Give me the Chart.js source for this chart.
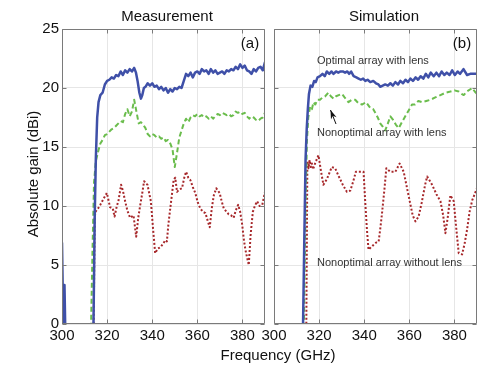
<!DOCTYPE html>
<html><head><meta charset="utf-8">
<script src="https://cdn.jsdelivr.net/npm/chart.js@4"></script>
<style>
html,body{margin:0;padding:0;background:#fff;}
#wrap{position:relative;width:500px;height:378px;overflow:hidden;}
canvas{position:absolute;left:0;top:0;}
</style></head><body>
<div id="wrap">
<canvas id="c1" width="500" height="378"></canvas>
<canvas id="c2" width="500" height="378"></canvas>
</div>
<script>
// ---------- tick labels ----------
const ticksX = [300, 320, 340, 360, 380];
const ticksY = [0, 5, 10, 15, 20, 25];

// ---------- Measurement: optimal array with lens ----------
const measOptFreq = [300,300.6,301.1,301.5,313.9,314.5,315,315.6,316.2,317,318,319,320,321,322,323,324,325,326,327,328,329,330,331,332,332.8,333.5,334.3,335,335.6,336.3,337,338,339,340,341,342,343,344,345,346,347,348,349,350,351,352,353,354,355,356,357,358,359,360,361,362,363,364,365,366,367,368,369,370,371,372,373,374,375,376,377,378,379,380,381,382,383,384,385,386,387,388,389,390];
const measOpt = [6.9,-0.5,3.3,-1,-1,9,14,17.5,18.8,19.4,19.6,20.3,20.6,20.7,20.9,20.8,21.1,21.0,21.4,21.1,21.5,21.3,21.6,21.4,21.7,21.3,20.6,19.6,19.1,19.4,20.0,20.1,20.4,20.2,20.4,20.1,20.2,19.9,20.1,19.8,20.0,19.6,19.9,19.7,20.0,19.9,20.1,20.0,20.6,21.2,21.0,21.3,20.9,21.3,21.4,21.2,21.6,21.4,21.5,21.2,21.6,21.3,21.5,21.2,21.3,21.4,21.2,21.5,21.4,21.6,21.5,21.8,21.6,22.0,21.7,21.9,21.5,21.4,21.2,21.6,21.4,21.7,21.8,21.5,22.2];

// ---------- Measurement: nonoptimal array with lens ----------
const measNoLensOptFreq = [312.8,313.5,314.2,315,316,317,318,319,320,321,322,323,324,325,326,327,328,329,330,331,332,333,334,335,336,337,338,339,340,341,342,343,344,345,346,347,348,349,350,351,352,353,354,355,356,357,358,359,360,361,362,363,364,365,366,367,368,369,370,371,372,373,374,375,376,377,378,379,380,381,382,383,384,385,386,387,388,389,390];
const measNonoptLens = [-1,6,12,13.8,14.6,15.3,15.6,16.0,16.1,16.3,16.5,16.6,16.8,17.0,17.2,17.1,17.8,18.2,17.6,18.0,19.0,18.0,17.0,17.1,16.9,16.6,16.1,15.9,16.1,16.0,15.8,15.9,15.7,15.8,15.5,15.6,15.3,14.8,13.3,14.5,15.8,16.4,17.0,17.4,17.1,17.5,17.7,17.6,17.8,17.6,17.7,17.5,17.6,17.4,17.6,17.4,17.6,17.8,17.7,17.9,17.8,17.7,17.8,17.6,17.7,18.0,17.9,18.0,17.8,17.9,17.6,17.4,17.6,17.5,17.3,17.2,17.4,17.5,17.9];

// ---------- Measurement: nonoptimal array without lens ----------
const measNoLensFreq = [314,314.5,314.8,316,317,318.4,319.9,321.3,322.5,323.3,324.3,325,326.2,327,328,329,330.2,331.7,332.5,332.9,333.8,334.7,335.5,336.4,337.2,337.9,339.4,340.4,341.3,342.5,343.6,344.8,345.8,346.5,347.2,348,349.5,350.2,351,352,353.2,354.2,355,356,356.9,358,359.1,360.2,361.3,362.5,363.6,364.5,365.5,366.4,367.3,368.4,369.9,370.8,371.7,373,373.9,375,376.1,377,378.1,379,379.9,380.6,381.3,382.1,382.8,383.6,384.6,385.5,386.5,387.6,388.8,390];
const measNonoptNoLens = [-1,9.0,9.5,9.8,10.1,10.6,11.1,9.9,9.8,9.1,10.0,10.4,11.8,11.3,10.4,9.6,9.0,9.2,8.0,7.4,9.0,10.1,11.0,12.1,11.9,11.8,10.4,8.0,6.0,6.4,6.5,6.8,7.1,7.0,8.5,9.8,12.2,12.4,11.2,11.4,11.5,12.4,12.9,12.4,12.2,11.6,11.1,10.3,9.8,9.5,9.4,8.8,8.2,9.8,10.9,11.5,11.1,10.4,9.8,9.5,9.3,9.2,9.0,9.6,10.1,9.5,8.4,7.2,6.3,5.6,5.0,7.5,9.5,10.0,10.4,10.0,10.1,11.2];

// ---------- Simulation: optimal array with lens ----------
const simOptFreq = [312.8,313.5,314,314.5,315,315.5,316.2,317,317.8,318.5,319.3,320.4,321.5,322.5,323.4,324.5,325.5,326.4,327.5,328.5,329.5,330.5,331.5,332.5,333.3,334.2,335.3,336.5,337.5,338.5,339.5,340.5,341.5,342.7,344,345.2,346.3,347.1,348.2,349.3,350.5,351.6,352.7,353.8,355,356,357.2,358.3,359.4,360.5,361.6,362.8,363.9,365,366.2,367.3,368.4,369.5,370.8,372,373.2,374.3,375.5,376.6,377.8,379,380.2,381.4,382.5,384,385.6,387,388.5,390];
const simOpt = [-1,8,14,16.5,18.2,19.5,20.2,20.1,20.6,20.5,20.9,21.0,21.2,21.0,21.4,21.2,21.4,21.2,21.4,21.3,21.4,21.4,21.3,21.4,21.2,21.4,21.0,20.9,20.8,20.7,20.8,20.6,20.7,20.5,20.6,20.4,20.3,20.1,20.2,20.3,20.2,20.4,20.2,20.5,20.3,20.6,20.4,20.7,20.5,20.8,20.6,20.9,20.7,21.0,20.8,21.2,20.9,21.3,21.0,21.3,21.0,21.4,21.1,21.3,21.1,21.5,21.1,21.4,21.2,21.6,21.1,21.2,21.2,21.2];

// ---------- Simulation: nonoptimal array with lens ----------
const simNonoptLensFreq = [313.2,314,314.6,315.2,316,316.8,317.5,318.3,319.2,320.4,321.5,322.7,324.1,325.2,326.4,327.5,328.7,330.1,331.3,333,334.5,336,337.5,339,340.8,342.7,344,344.9,346,347.1,348.3,349.3,350.5,351.6,352.8,354,355.3,356.7,358.2,359.7,361.2,362.5,364,365.6,367.5,369.3,371.5,373.8,376,378.2,380,381.9,383.2,384.1,385.5,387.9,389,390];
const simNonoptLens = [-1,10,15.5,17.5,18.4,18.2,18.8,18.6,19.0,19.0,19.2,19.3,19.6,19.3,19.1,19.3,19.4,19.5,19.2,18.8,19.0,19.0,18.7,18.6,18.8,18.3,18.2,17.9,17.5,17.0,16.7,16.4,17.0,17.6,17.3,16.9,16.6,17.1,17.6,18.1,18.6,18.6,18.9,18.8,18.9,19.0,19.2,19.4,19.6,19.7,19.8,19.7,19.5,19.4,19.7,20.0,19.7,19.5];

// ---------- Simulation: nonoptimal array without lens ----------
const simNoLensFreq = [314.3,314.8,315.3,315.8,316.3,316.8,317.3,318.2,319.7,320.8,321.9,323.5,325.6,327.1,328.5,330.5,332.3,333.8,335,336.3,338,339.7,340.4,341.2,341.9,343,344.1,345.3,346.4,347.2,347.9,349,349.8,351.6,353.8,355.7,357.5,359,360.4,361.5,362.7,364.1,365.5,367,367.9,370.1,372,373.8,375,376,377,378.2,379.7,380.6,381.9,383.4,384.5,385.6,386.7,387.9,390];
const simNonoptNoLens = [-1,13.8,13.2,13.9,13.3,13.6,13.1,13.6,14.3,13.0,11.8,12.3,13.3,13.2,12.6,11.8,11.2,11.3,12.0,12.9,12.9,12.9,10.5,8.0,6.3,6.5,6.7,6.9,7.0,8.2,9.4,11.5,13.2,12.9,12.9,13.6,12.9,11.5,10.2,9.2,8.7,9.1,10.3,11.8,12.5,11.8,11.0,10.4,9.2,7.7,9.0,10.9,10.4,8.5,6.0,5.9,6.8,8.0,9.5,10.5,11.5];

// ---------- helpers ----------
const FAM = '"Liberation Sans", Arial, Helvetica, sans-serif';
const BLUE = '#3f50a8', GREEN = '#6bbd4d', RED = '#a7282b';
const pts = (xs, ys) => xs.map((x, i) => ({ x: x, y: ys[i] }));

const decor = {
  id: 'decor',
  afterDraw(chart, args, opts) {
    const ctx = chart.ctx, a = chart.chartArea;
    const xs = chart.scales.x, ys = chart.scales.y;
    ctx.save();
    const L = Math.round(a.left) + 0.5, R = Math.round(a.right) - 0.5;
    const T = Math.round(a.top) + 0.5, B = Math.round(a.bottom) - 0.5;
    ctx.strokeStyle = '#7a7a7a'; ctx.lineWidth = 1;
    ctx.beginPath();
    ctx.rect(L, T, R - L, B - T);
    // inward ticks
    ticksX.forEach(v => {
      const p = Math.round(xs.getPixelForValue(v)) + 0.5;
      ctx.moveTo(p, B); ctx.lineTo(p, B - 4);
      ctx.moveTo(p, T); ctx.lineTo(p, T + 4);
    });
    ticksY.forEach(v => {
      const p = Math.round(ys.getPixelForValue(v)) + 0.5;
      ctx.moveTo(L, p); ctx.lineTo(L + 4, p);
      ctx.moveTo(R, p); ctx.lineTo(R - 4, p);
    });
    ctx.stroke();
    // texts
    (opts.texts || []).forEach(t => {
      ctx.save();
      ctx.font = t.font; ctx.fillStyle = t.color || '#111';
      ctx.textAlign = t.align || 'center'; ctx.textBaseline = 'middle';
      ctx.translate(t.x, t.y);
      if (t.rot) ctx.rotate(-Math.PI / 2);
      ctx.fillText(t.text, 0, 0);
      ctx.restore();
    });
    // arrow
    if (opts.arrow) {
      const [x1, y1, x2, y2] = opts.arrow;
      const ang = Math.atan2(y2 - y1, x2 - x1);
      ctx.strokeStyle = '#111'; ctx.fillStyle = '#111'; ctx.lineWidth = 1;
      ctx.beginPath(); ctx.moveTo(x1, y1); ctx.lineTo(x2, y2); ctx.stroke();
      const hl = 9, hw = 3;
      ctx.beginPath();
      ctx.moveTo(x2, y2);
      ctx.lineTo(x2 - hl * Math.cos(ang) + hw * Math.sin(ang), y2 - hl * Math.sin(ang) - hw * Math.cos(ang));
      ctx.lineTo(x2 - hl * 0.7 * Math.cos(ang), y2 - hl * 0.7 * Math.sin(ang));
      ctx.lineTo(x2 - hl * Math.cos(ang) - hw * Math.sin(ang), y2 - hl * Math.sin(ang) + hw * Math.cos(ang));
      ctx.closePath(); ctx.fill();
    }
    ctx.restore();
  }
};

function ds(data, color, width, dash) {
  return { data: data, borderColor: color, borderWidth: width, borderDash: dash,
    pointRadius: 0, tension: 0, fill: false, clip: 0, borderCapStyle: 'butt', borderJoinStyle: 'round' };
}

function makeScales(yWidth, showY) {
  return {
    x: {
      type: 'linear', min: 300, max: 390,
      afterBuildTicks: s => { s.ticks = ticksX.map(v => ({ value: v })); },
      grid: { color: '#e6e6e6', drawTicks: false },
      border: { display: false },
      ticks: { autoSkip: false, maxRotation: 0, padding: 3, color: '#111', font: { family: FAM, size: 15 } },
      afterFit: s => { s.height = 54; }
    },
    y: {
      type: 'linear', min: 0, max: 25,
      afterBuildTicks: s => { s.ticks = ticksY.map(v => ({ value: v })); },
      grid: { color: '#e6e6e6', drawTicks: false },
      border: { display: false },
      ticks: { display: showY, padding: 3, color: '#111', font: { family: FAM, size: 15 } },
      afterFit: s => { s.width = yWidth; }
    }
  };
}

const common = { responsive: false, animation: false, devicePixelRatio: 1, events: [] };

new Chart(document.getElementById('c1'), {
  type: 'line',
  data: { datasets: [
    ds(pts(measOptFreq, measOpt), BLUE, 2.5, []),
    ds(pts(measNoLensOptFreq, measNonoptLens), GREEN, 2, [5, 3]),
    ds(pts(measNoLensFreq, measNonoptNoLens), RED, 2, [2, 2])
  ] },
  options: Object.assign({}, common, {
    layout: { padding: { top: 29, right: 235, left: 0, bottom: 0 } },
    scales: makeScales(62, true),
    plugins: {
      legend: { display: false }, tooltip: { enabled: false },
      decor: { texts: [
        { text: 'Measurement', x: 167, y: 17, font: '15px ' + FAM },
        { text: 'Absolute gain (dBi)', x: 34, y: 174, rot: true, font: '15px ' + FAM },
        { text: '(a)', x: 250, y: 44, font: '15px ' + FAM },
        { text: 'Frequency (GHz)', x: 278, y: 356, font: '15px ' + FAM }
      ] }
    }
  }),
  plugins: [decor]
});

new Chart(document.getElementById('c2'), {
  type: 'line',
  data: { datasets: [
    ds(pts(simOptFreq, simOpt), BLUE, 2.5, []),
    ds(pts(simNonoptLensFreq, simNonoptLens), GREEN, 2, [5, 3]),
    ds(pts(simNoLensFreq, simNonoptNoLens), RED, 2, [2, 2])
  ] },
  options: Object.assign({}, common, {
    layout: { padding: { top: 29, right: 23, left: 0, bottom: 0 } },
    scales: makeScales(274, false),
    plugins: {
      legend: { display: false }, tooltip: { enabled: false },
      decor: {
        texts: [
          { text: 'Simulation', x: 384, y: 17, font: '15px ' + FAM },
          { text: '(b)', x: 462, y: 44, font: '15px ' + FAM },
          { text: 'Optimal array with lens', x: 317, y: 61, align: 'left', color: '#333', font: '11px ' + FAM },
          { text: 'Nonoptimal array with lens', x: 317, y: 133, align: 'left', color: '#333', font: '11px ' + FAM },
          { text: 'Nonoptimal array without lens', x: 317, y: 262.5, align: 'left', color: '#333', font: '11px ' + FAM }
        ],
        arrow: [336, 124, 330.5, 110]
      }
    }
  }),
  plugins: [decor]
});
</script>
</body></html>
